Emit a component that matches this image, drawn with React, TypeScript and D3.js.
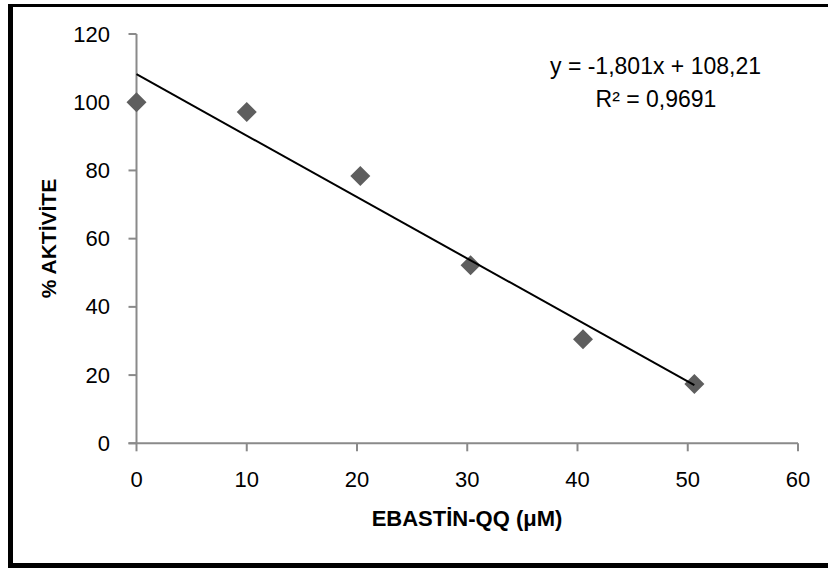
import React from "react";
import * as d3 from "d3";

const xValues = [0, 10, 20.3, 30.3, 40.5, 50.6];
const yValues = [100, 97.1, 78.4, 52.2, 30.5, 17.4];
const xTicks = [0, 10, 20, 30, 40, 50, 60];
const yTicks = [0, 20, 40, 60, 80, 100, 120];
const slope = -1.801;
const intercept = 108.21;
const equationText = "y = -1,801x + 108,21";
const r2Text = "R² = 0,9691";
const xTitle = "EBASTİN-QQ (μM)";
const yTitle = "% AKTİVİTE";

const W = 828;
const H = 568;

export default function App() {
  const x = d3.scaleLinear().domain([0, 60]).range([136.5, 798]);
  const y = d3.scaleLinear().domain([0, 120]).range([443.3, 34]);
  const axisColor = "#8a8a8a";
  const font = "'Liberation Sans', Arial, sans-serif";
  const x0 = d3.min(xValues) as number;
  const x1 = d3.max(xValues) as number;
  const diamond = (cx: number, cy: number, r: number) =>
    `M${cx},${cy - r}L${cx + r},${cy}L${cx},${cy + r}L${cx - r},${cy}Z`;

  return (
    <svg
      width={W}
      height={H}
      style={{ position: "absolute", left: 0, top: 0, background: "#fff" }}
      fontFamily={font}
    >
      <rect x={0} y={0} width={W} height={H} fill="#fff" />
      {/* frame */}
      <line x1={8} x2={W} y1={5.5} y2={5.5} stroke="#000" strokeWidth={3} />
      <line x1={10.5} x2={10.5} y1={4} y2={H} stroke="#000" strokeWidth={5} />
      <line x1={8} x2={W} y1={565.5} y2={565.5} stroke="#000" strokeWidth={5} />

      {/* y axis */}
      <line x1={x(0)} x2={x(0)} y1={y(120)} y2={y(0)} stroke={axisColor} strokeWidth={2} />
      {yTicks.map((t) => (
        <g key={"yt" + t}>
          <line x1={x(0) - 8} x2={x(0)} y1={y(t)} y2={y(t)} stroke={axisColor} strokeWidth={2} />
          <text
            x={110}
            y={y(t)}
            textAnchor="end"
            dominantBaseline="central"
            fontSize={22}
            fill="#000"
          >
            {t}
          </text>
        </g>
      ))}

      {/* x axis */}
      <line x1={x(0) - 8} x2={x(60)} y1={y(0)} y2={y(0)} stroke={axisColor} strokeWidth={2} />
      {xTicks.map((t) => (
        <g key={"xt" + t}>
          <line x1={x(t)} x2={x(t)} y1={y(0)} y2={y(0) + 8} stroke={axisColor} strokeWidth={2} />
          <text
            x={x(t)}
            y={479}
            textAnchor="middle"
            dominantBaseline="central"
            fontSize={22}
            fill="#000"
          >
            {t}
          </text>
        </g>
      ))}

      {/* points */}
      {xValues.map((v, i) => (
        <path key={"p" + i} d={diamond(x(v), y(yValues[i]), 10)} fill="#5e5e5e" />
      ))}

      {/* trendline */}
      <line
        x1={x(x0)}
        y1={y(slope * x0 + intercept)}
        x2={x(x1)}
        y2={y(slope * x1 + intercept)}
        stroke="#000"
        strokeWidth={2}
      />

      {/* equation */}
      <text x={655.5} y={74} textAnchor="middle" fontSize={23} fill="#000">
        {equationText}
      </text>
      <text x={656} y={107} textAnchor="middle" fontSize={23} fill="#000">
        {r2Text}
      </text>

      {/* titles */}
      <text x={467} y={526} textAnchor="middle" fontSize={22} fontWeight="bold" fill="#000">
        {xTitle}
      </text>
      <text
        transform={`translate(56,238.5) rotate(-90)`}
        textAnchor="middle"
        fontSize={21}
        fontWeight="bold"
        fill="#000"
      >
        {yTitle}
      </text>
    </svg>
  );
}
